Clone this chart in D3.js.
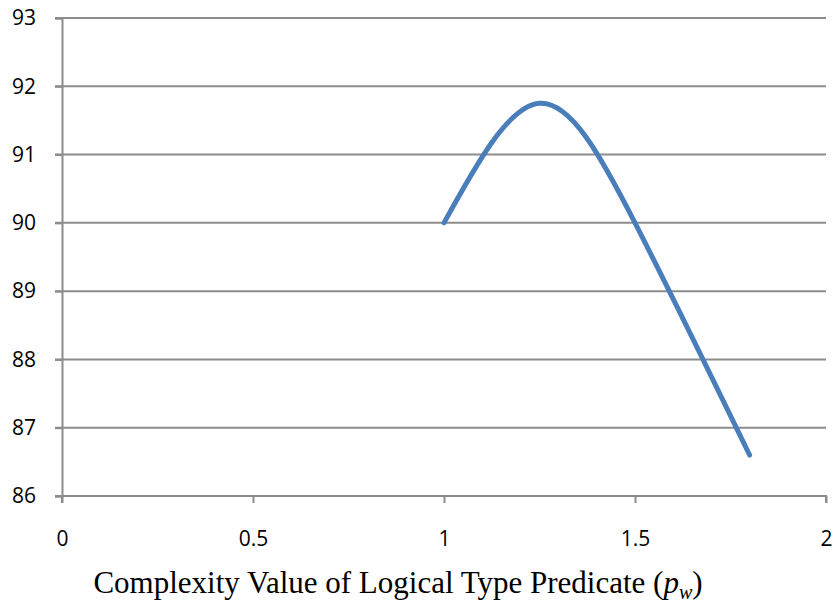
<!DOCTYPE html>
<html>
  <head>
    <meta charset="UTF-8" />
    <script src="https://d3js.org/d3.v7.min.js"></script>
    <style>
      body { margin: 0; background: #fff; }
      .tick text { font-family: "Open Sans", sans-serif; font-size: 21px; fill: #000; }
    </style>
  </head>
  <body>
    <div id="chart"></div>
    <script>
      // values
      var pwValues = [1, 1.25, 1.5, 1.8];
      var accuracy = [90, 91.75, 90.0, 86.6];
      var xTicks = [0, 0.5, 1, 1.5, 2];
      var yTicks = [86, 87, 88, 89, 90, 91, 92, 93];

      var width = 833, height = 605;
      var margin = { top: 18, right: 7, bottom: 109, left: 62 };

      var svg = d3.select("#chart").append("svg")
        .attr("width", width)
        .attr("height", height);

      var x = d3.scaleLinear().domain([0, 2]).range([margin.left, width - margin.right]);
      var y = d3.scaleLinear().domain([86, 93]).range([height - margin.bottom, margin.top]);

      // gridlines
      svg.append("g")
        .selectAll("line")
        .data(yTicks)
        .enter()
        .append("line")
        .attr("x1", margin.left - 7)
        .attr("x2", width - margin.right)
        .attr("y1", function (d) { return y(d); })
        .attr("y2", function (d) { return y(d); })
        .attr("stroke", "#8c8c8c")
        .attr("stroke-width", 2);

      // y axis
      var yAxis = svg.append("g")
        .attr("transform", "translate(" + margin.left + ",0)")
        .call(d3.axisLeft(y).tickValues(yTicks).tickSize(7).tickPadding(19).tickFormat(d3.format("d")));
      yAxis.select(".domain").attr("stroke", "#8c8c8c").attr("stroke-width", 2);
      yAxis.selectAll(".tick line").attr("stroke", "#8c8c8c").attr("stroke-width", 2);

      // x axis
      var xAxis = svg.append("g")
        .attr("transform", "translate(0," + y(86) + ")")
        .call(d3.axisBottom(x).tickValues(xTicks).tickSize(7).tickPadding(28).tickFormat(function (d) { return String(d); }));
      xAxis.select(".domain").attr("stroke", "#8c8c8c").attr("stroke-width", 2)
        .attr("d", "M" + x(0) + ",7V0H" + x(2) + "V7");
      xAxis.selectAll(".tick line").attr("stroke", "#8c8c8c").attr("stroke-width", 2);

      // series
      var line = d3.line()
        .x(function (d, i) { return x(pwValues[i]); })
        .y(function (d) { return y(d); })
        .curve(d3.curveNatural);

      svg.append("path")
        .datum(accuracy)
        .attr("fill", "none")
        .attr("stroke", "#4a7ebb")
        .attr("stroke-width", 5)
        .attr("stroke-linecap", "round")
        .attr("stroke-linejoin", "round")
        .attr("d", line);

      // axis title
      var title = svg.append("text")
        .attr("x", 398)
        .attr("y", 593)
        .attr("text-anchor", "middle")
        .style("font-family", "'Liberation Serif', 'Times New Roman', serif")
        .style("font-size", "31px")
        .text("Complexity Value of Logical Type Predicate (");
      title.append("tspan").style("font-style", "italic").text("p");
      title.append("tspan").style("font-style", "italic").style("font-size", "20px").attr("dy", 6).text("w");
      title.append("tspan").attr("dy", -6).text(")");
    </script>
  </body>
</html>
